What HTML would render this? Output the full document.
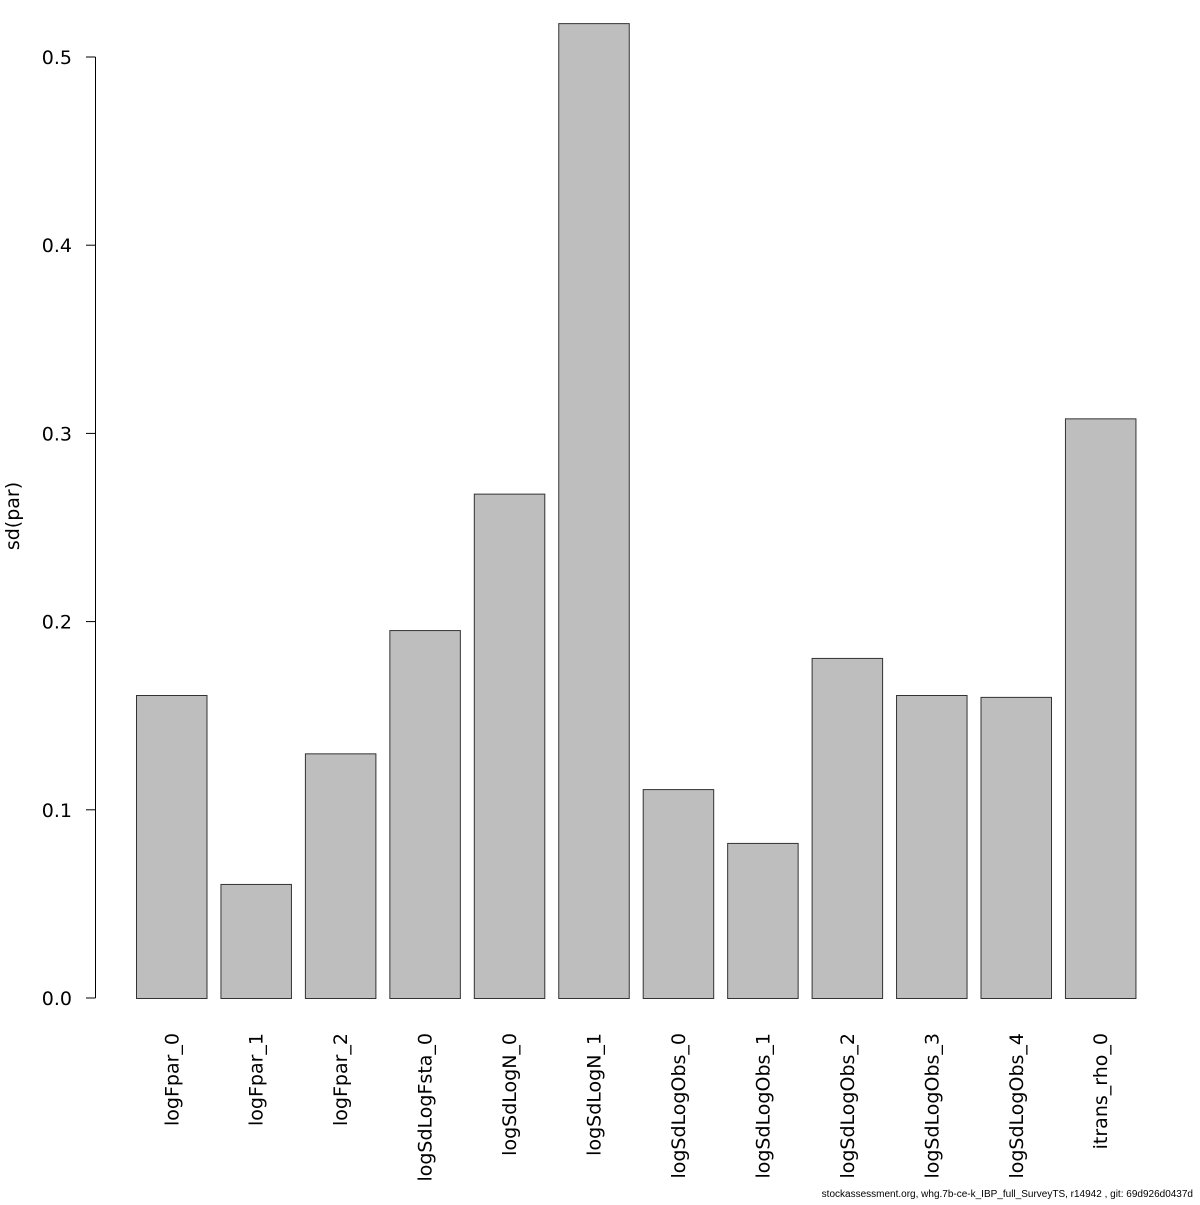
<!DOCTYPE html>
<html><head><meta charset="utf-8"><style>
body{margin:0;background:#fff}
svg text{font-family:"DejaVu Sans","Liberation Sans",sans-serif;fill:#000}
</style></head><body>
<svg id="chart" width="1200" height="1200" xmlns="http://www.w3.org/2000/svg">
<rect width="1200" height="1200" fill="#fff"/>
<g id="axis"></g>
<g id="bars"></g>
<g id="labels"></g>
<text x="0" y="0" transform="translate(19,516) rotate(-90)" text-anchor="middle" font-size="19">sd(par)</text>
<text x="1193" y="1197" text-anchor="end" font-size="10" style="font-family:'Liberation Sans',sans-serif">stockassessment.org, whg.7b-ce-k_IBP_full_SurveyTS, r14942 , git: 69d926d0437d</text>
</svg>
<script>
const categories=["logFpar_0","logFpar_1","logFpar_2","logSdLogFsta_0","logSdLogN_0","logSdLogN_1","logSdLogObs_0","logSdLogObs_1","logSdLogObs_2","logSdLogObs_3","logSdLogObs_4","itrans_rho_0"];
const values=[0.161,0.0606,0.130,0.1955,0.268,0.518,0.111,0.0824,0.1807,0.161,0.160,0.308];
const ticks=[0,0.1,0.2,0.3,0.4,0.5];
const tickLabels=["0.0","0.1","0.2","0.3","0.4","0.5"];
const NS="http://www.w3.org/2000/svg";
const y=v=>998-v*1882;
const xStart=i=>136+i*84.45;
const bw=70.5;
const ax=document.getElementById('axis'),bg=document.getElementById('bars'),lg=document.getElementById('labels');
function mk(t,a){const e=document.createElementNS(NS,t);for(const k in a)e.setAttribute(k,a[k]);return e;}
const line=mk('line',{x1:95.5,x2:95.5,y1:y(ticks[0]),y2:y(ticks[ticks.length-1]),stroke:'#000','stroke-width':1});


ax.appendChild(line);
ticks.forEach((t,i)=>{
 const tk=mk('line',{x1:86,x2:95.5,y1:y(t),y2:y(t),stroke:'#000'});
 
 
 ax.appendChild(tk);
 const tx=mk('text',{x:72,y:y(t)+7,'text-anchor':'end','font-size':19});
 
 
 tx.textContent=tickLabels[i];ax.appendChild(tx);
});
categories.forEach((c,i)=>{
 const r=mk('rect',{x:xStart(i)+0.5,y:y(values[i])+0.5,width:bw,height:y(0)-y(values[i]),fill:'#bebebe',stroke:'#333','stroke-width':1});
 
 
 bg.appendChild(r);
 const cx=xStart(i)+bw/2+7;
 const t=mk('text',{x:0,y:0,'text-anchor':'end','font-size':19,transform:`translate(${cx},1033) rotate(-90)`});
 
 
 t.textContent=c;lg.appendChild(t);
});
</script>
</body></html>
